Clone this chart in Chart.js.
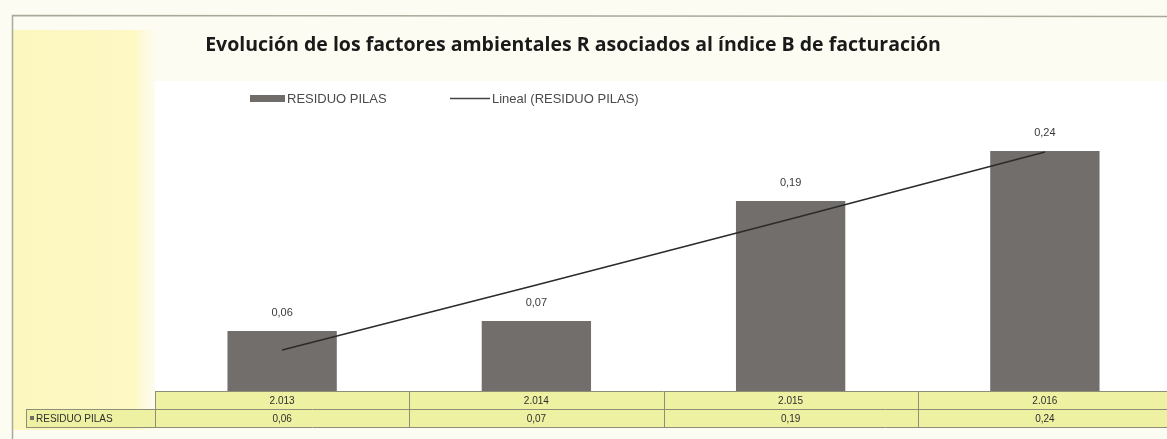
<!DOCTYPE html>
<html>
<head>
<meta charset="utf-8">
<script src="https://cdn.jsdelivr.net/npm/chart.js@4"></script>
<style>
  html, body { margin: 0; padding: 0; overflow: hidden; background: #fdfcf3; }
  #wrap { position: relative; width: 1180px; height: 439px; }
</style>
</head>
<body>
<div id="wrap"><canvas id="c" width="1180" height="439"></canvas></div>
<script>
const title = 'Evolución de los factores ambientales R asociados al índice B de facturación';
const categories = ['2.013', '2.014', '2.015', '2.016'];
const seriesName = 'RESIDUO PILAS';
const trendName = 'Lineal (RESIDUO PILAS)';
const residuoPilas = [0.06, 0.07, 0.19, 0.24];
const trendValues = [0.041, 0.106, 0.172, 0.239];
const yMin = 0;
const yMax = 0.28;

const fmt = v => v.toFixed(2).replace('.', ',');

const decor = {
  id: 'decor',
  beforeDraw(chart) {
    const ctx = chart.ctx;
    const ca = chart.chartArea;
    ctx.save();
    ctx.fillStyle = '#fdfcf3';
    ctx.fillRect(0, 0, chart.width, chart.height);
    // yellowish left strip
    const g = ctx.createLinearGradient(12, 0, 165, 0);
    g.addColorStop(0, 'rgba(252,247,190,1)');
    g.addColorStop(0.8, 'rgba(253,248,196,1)');
    g.addColorStop(1, 'rgba(253,252,240,0)');
    ctx.fillStyle = g;
    ctx.fillRect(12, 30, 153, 400);
    // border lines
    ctx.strokeStyle = '#a9a99a';
    ctx.lineWidth = 1.5;
    ctx.beginPath();
    ctx.moveTo(12, 15.5); ctx.lineTo(chart.width, 16.5);
    ctx.moveTo(12.5, 15); ctx.lineTo(12.5, 439);
    ctx.stroke();
    // plot area
    ctx.fillStyle = '#ffffff';
    ctx.fillRect(ca.left, ca.top - 30, ca.right - ca.left, ca.bottom - ca.top + 30);
    // title
    ctx.fillStyle = '#1a1a1a';
    ctx.font = 'bold 19.5px "Open Sans", sans-serif';
    ctx.textAlign = 'center';
    ctx.textBaseline = 'middle';
    ctx.fillText(title, 573, 45);
    // legend
    ctx.fillStyle = '#6f6c69';
    ctx.fillRect(250, 95, 35, 7);
    ctx.strokeStyle = '#444';
    ctx.lineWidth = 1.5;
    ctx.beginPath(); ctx.moveTo(450, 98.5); ctx.lineTo(490, 98.5); ctx.stroke();
    ctx.fillStyle = '#4a4a4a';
    ctx.font = '13px "Liberation Sans", sans-serif';
    ctx.textAlign = 'left';
    ctx.fillText(seriesName, 287, 99);
    ctx.fillText(trendName, 492, 99);
    ctx.restore();
  },
  afterDraw(chart) {
    const ctx = chart.ctx;
    const ca = chart.chartArea;
    const x = chart.scales.x;
    const meta = chart.getDatasetMeta(1);
    ctx.save();
    // data labels
    ctx.fillStyle = '#3a3a3a';
    ctx.font = '11px "Liberation Sans", sans-serif';
    ctx.textAlign = 'center';
    ctx.textBaseline = 'middle';
    meta.data.forEach((bar, i) => {
      ctx.fillText(fmt(residuoPilas[i]), bar.x, bar.y - 18);
    });
    // data table
    const r1 = ca.bottom, rh = 18, r2 = r1 + rh, r3 = r2 + rh;
    const colW = (ca.right - ca.left) / categories.length;
    ctx.fillStyle = '#eef1a2';
    ctx.fillRect(ca.left, r1, ca.right - ca.left, rh * 2);
    ctx.fillRect(26, r2, ca.left - 26, rh);
    ctx.strokeStyle = '#8e8e78';
    ctx.lineWidth = 1;
    ctx.beginPath();
    ctx.moveTo(ca.left, r1 + 0.5); ctx.lineTo(ca.right, r1 + 0.5);
    ctx.moveTo(26, r2 + 0.5); ctx.lineTo(ca.right, r2 + 0.5);
    ctx.moveTo(26, r3 + 0.5); ctx.lineTo(ca.right, r3 + 0.5);
    ctx.moveTo(26.5, r2); ctx.lineTo(26.5, r3);
    for (let i = 0; i <= categories.length; i++) {
      const xx = Math.round(ca.left + i * colW) + 0.5;
      ctx.moveTo(xx, r1); ctx.lineTo(xx, r3);
    }
    ctx.stroke();
    ctx.fillStyle = '#2e2e2e';
    ctx.font = '10px "Liberation Sans", sans-serif';
    ctx.textAlign = 'center';
    ctx.textBaseline = 'middle';
    categories.forEach((c, i) => {
      const cx = x.getPixelForValue(i);
      ctx.fillText(c, cx, r1 + rh / 2 + 1);
      ctx.fillText(fmt(residuoPilas[i]), cx, r2 + rh / 2 + 1);
    });
    ctx.textAlign = 'left';
    ctx.fillStyle = '#6f6c69';
    ctx.fillRect(30, r2 + 7, 4, 4);
    ctx.fillStyle = '#2e2e2e';
    ctx.fillText(seriesName, 36, r2 + rh / 2 + 1);
    ctx.restore();
  }
};

new Chart(document.getElementById('c'), {
  data: {
    labels: categories,
    datasets: [
      {
        type: 'line',
        label: trendName,
        data: trendValues,
        borderColor: '#2b2b2b',
        borderWidth: 1.6,
        pointRadius: 0,
        tension: 0,
        order: 0
      },
      {
        type: 'bar',
        label: seriesName,
        data: residuoPilas,
        backgroundColor: '#716e6b',
        barPercentage: 0.43,
        categoryPercentage: 1,
        order: 1
      }
    ]
  },
  options: {
    responsive: false,
    animation: false,
    layout: { padding: { left: 155, right: 8, top: 111, bottom: 48 } },
    plugins: { legend: { display: false }, title: { display: false }, tooltip: { enabled: false } },
    scales: {
      x: { display: false, offset: true },
      y: { display: false, min: yMin, max: yMax }
    }
  },
  plugins: [decor]
});
</script>
</body>
</html>
